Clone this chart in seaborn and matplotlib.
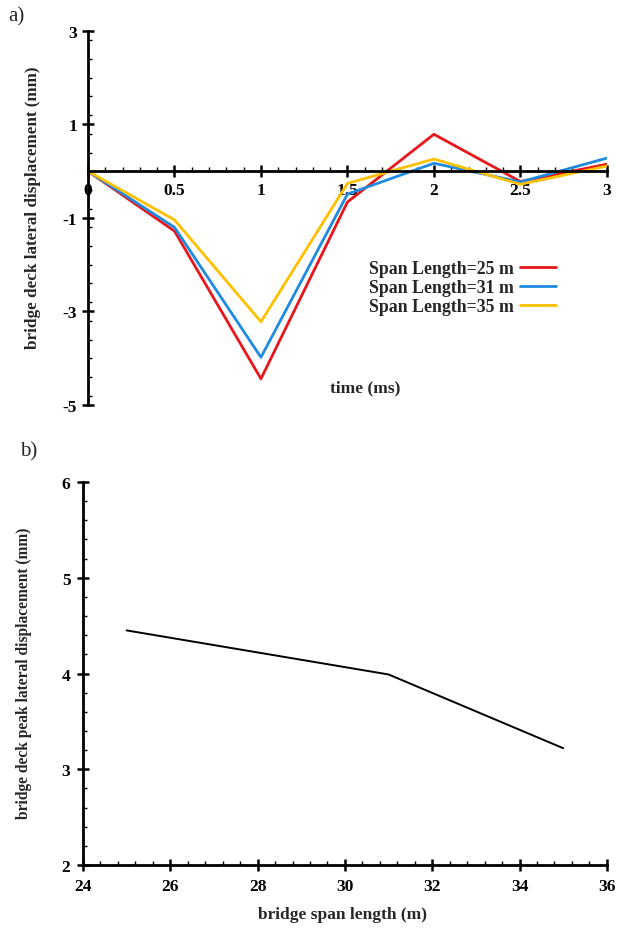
import numpy as np
import pandas as pd
import matplotlib
matplotlib.use("Agg")
import matplotlib.pyplot as plt
from matplotlib.ticker import MultipleLocator
from matplotlib.font_manager import FontProperties
import seaborn as sns

# ---- data ----
time_ms = [0, 0.5, 1.0, 1.5, 2.0, 2.5, 3.0]
disp_25 = [0, -1.28, -4.44, -0.66, 0.79, -0.22, 0.15]
disp_31 = [0, -1.20, -3.98, -0.49, 0.17, -0.23, 0.28]
disp_35 = [0, -1.04, -3.22, -0.26, 0.26, -0.28, 0.11]
series_labels = ["Span Length=25 m", "Span Length=31 m", "Span Length=35 m"]
series_colors = ["#E8161B", "#1E8BE0", "#FFC000"]

span_length = [25, 31, 35]
peak_disp = [4.45, 3.99, 3.22]

sns.set_style("white")
plt.rcParams["font.family"] = ["Liberation Serif", "DejaVu Serif"]

df_a = pd.DataFrame({
    "time": time_ms * 3,
    "disp": disp_25 + disp_31 + disp_35,
    "span": [series_labels[0]] * 7 + [series_labels[1]] * 7 + [series_labels[2]] * 7,
})
df_b = pd.DataFrame({"span": span_length, "peak": peak_disp})

fig = plt.figure(figsize=(6.17, 9.29), dpi=100)
ax1 = fig.add_axes([0.1426, 0.563, 0.841, 0.4026])
ax2 = fig.add_axes([0.1345, 0.0678, 0.849, 0.4123])

bold = lambda size: FontProperties(family="Liberation Serif", weight="bold", size=size)

# ---- panel a ----
sns.lineplot(data=df_a, x="time", y="disp", hue="span", palette=dict(zip(series_labels, series_colors)),
             linewidth=2.0, ax=ax1, legend=False, sort=False)
ax1.set_xlim(0, 3.0)
ax1.set_ylim(-5, 3)
for s in ["top", "right"]:
    ax1.spines[s].set_visible(False)
ax1.spines["left"].set_position(("data", 0))
ax1.spines["bottom"].set_position(("data", 0))
for s in ["left", "bottom"]:
    ax1.spines[s].set_linewidth(2.0)
    ax1.spines[s].set_color("black")
ax1.set_xticks([0, 0.5, 1, 1.5, 2, 2.5, 3])
ax1.set_xticklabels(["0", "0.5", "1", "1.5", "2", "2.5", "3"])
ax1.set_yticks([3, 1, -1, -3, -5])
ax1.set_yticklabels(["3", "1", "-1", "-3", "-5"])
ax1.xaxis.set_minor_locator(MultipleLocator(0.1))
ax1.yaxis.set_minor_locator(MultipleLocator(0.4))
ax1.tick_params(which="both", bottom=True, left=True, top=False, right=False)
ax1.tick_params(which="major", direction="inout", length=8, width=1.8, colors="black", labelsize=12.5, pad=4)
ax1.tick_params(which="minor", direction="in", length=3, width=1.0, colors="black")
for lab in ax1.get_xticklabels() + ax1.get_yticklabels():
    lab.set_fontweight("bold")
ax1.set_xlabel("")
ax1.set_ylabel("")
fig.text(365 / 617, 1 - 388 / 929, "time (ms)", ha="center", va="center", fontproperties=bold(12.5))
fig.text(33 / 617, 1 - 208 / 929, "bridge deck lateral displacement (mm)", rotation=90,
         ha="center", va="center", fontproperties=bold(12.3))
fig.text(8 / 617, 1 - 17 / 929, "a)", ha="left", va="center", fontsize=15)

handles = [plt.Line2D([], [], color=c, linewidth=2.0) for c in series_colors]
leg = ax1.legend(handles, series_labels, loc="upper left", bbox_to_anchor=(0.528, 0.407),
                 frameon=False, markerfirst=False, handlelength=2.0, handletextpad=0.35,
                 labelspacing=0.12, prop=bold(12.8), borderaxespad=0)

# ---- panel b ----
sns.lineplot(data=df_b, x="span", y="peak", color="black", linewidth=1.4, ax=ax2)
ax2.set_xlim(24, 36)
ax2.set_ylim(2, 6)
for s in ["top", "right"]:
    ax2.spines[s].set_visible(False)
for s in ["left", "bottom"]:
    ax2.spines[s].set_linewidth(2.0)
    ax2.spines[s].set_color("black")
ax2.set_xticks([24, 26, 28, 30, 32, 34, 36])
ax2.set_yticks([2, 3, 4, 5, 6])
ax2.xaxis.set_minor_locator(MultipleLocator(0.4))
ax2.yaxis.set_minor_locator(MultipleLocator(0.2))
ax2.tick_params(which="both", bottom=True, left=True, top=False, right=False)
ax2.tick_params(which="major", direction="inout", length=8, width=1.8, colors="black", labelsize=12.5, pad=5)
ax2.tick_params(which="minor", direction="in", length=3, width=1.0, colors="black")
for lab in ax2.get_xticklabels() + ax2.get_yticklabels():
    lab.set_fontweight("bold")
ax2.set_xlabel("")
ax2.set_ylabel("")
fig.text(343 / 617, 1 - 915 / 929, "bridge span length (m)", ha="center", va="center", fontproperties=bold(12.5))
fig.text(24 / 617, 1 - 673 / 929, "bridge deck peak lateral displacement (mm)", rotation=90,
         ha="center", va="center", fontproperties=bold(11.2))
fig.text(20 / 617, 1 - 452 / 929, "b)", ha="left", va="center", fontsize=15)

fig.savefig("out.png", dpi=100, facecolor="white")
